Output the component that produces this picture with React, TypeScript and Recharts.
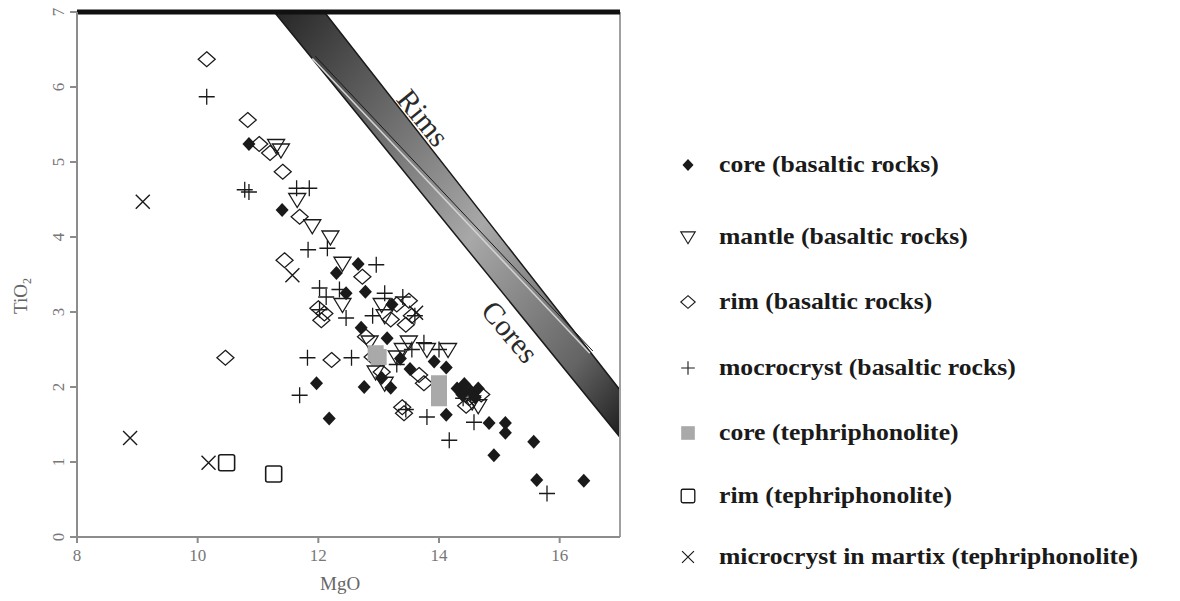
import { ComposedChart, Scatter, Area, Line, XAxis, YAxis, ReferenceLine } from 'recharts';

// MgO vs TiO2 of clinopyroxene
const coreBasalt = [
  [10.85, 5.24], [11.4, 4.36], [12.3, 3.52], [12.46, 3.25], [12.66, 3.64], [12.78, 3.27],
  [12.71, 2.79], [13.14, 2.65], [13.22, 3.1], [13.36, 2.38], [13.52, 2.24], [13.2, 1.99],
  [12.76, 2.0], [11.97, 2.05], [12.18, 1.58], [13.92, 2.34], [14.12, 2.26], [14.12, 1.63],
  [14.3, 1.98], [14.42, 2.04], [14.52, 1.95], [14.65, 1.98], [14.38, 1.9], [14.6, 1.86],
  [14.83, 1.52], [15.1, 1.52], [15.1, 1.39], [15.57, 1.27], [14.91, 1.09], [15.62, 0.76],
  [16.4, 0.75], [13.05, 2.12],
];
const mantleBasalt = [
  [11.3, 5.22], [11.38, 5.16], [11.65, 4.5], [11.9, 4.15], [12.2, 4.0], [12.4, 3.65],
  [12.4, 3.1], [13.05, 3.1], [13.1, 2.95], [13.4, 2.5], [13.8, 2.5], [14.15, 2.5],
  [13.1, 2.05], [13.3, 2.4], [14.55, 1.8], [14.65, 1.75], [12.95, 2.2], [13.5, 2.6],
  [12.85, 2.6], [14.45, 1.9],
];
const rimBasalt = [
  [10.15, 6.37], [10.83, 5.56], [11.02, 5.24], [11.2, 5.12], [11.41, 4.87], [11.69, 4.27],
  [11.44, 3.69], [10.46, 2.39], [12.05, 2.89], [12.1, 2.98], [12.73, 3.47], [12.79, 2.67],
  [13.45, 2.83], [13.3, 3.1], [13.67, 2.16], [13.39, 1.73], [12.22, 2.36], [12.9, 2.4],
  [13.05, 2.2], [13.5, 3.15], [13.55, 2.95], [13.2, 2.9], [14.5, 1.85], [14.7, 1.9],
  [13.42, 1.65], [12.0, 3.05], [13.75, 2.05], [14.45, 1.75],
];
const microBasalt = [
  [10.15, 5.87], [10.78, 4.63], [10.85, 4.6], [11.64, 4.65], [11.85, 4.65],
  [11.83, 3.83], [12.15, 3.85], [12.96, 3.63], [12.02, 3.32], [12.13, 3.2], [12.46, 2.92],
  [12.02, 3.03], [11.82, 2.39], [12.55, 2.39], [11.69, 1.89], [13.8, 1.6], [14.17, 1.29],
  [14.58, 1.53], [15.79, 0.58], [13.75, 2.59], [13.6, 2.95], [13.4, 3.2], [13.55, 2.5],
  [13.1, 3.25], [12.35, 3.3], [14.0, 2.5], [12.9, 2.95], [13.3, 2.3], [13.45, 1.7], [14.4, 1.85],
];
const coreTephri = [[12.95, 2.45], [13.0, 2.4], [14.0, 2.05], [14.0, 1.85]];
const rimTephri = [[10.48, 0.99], [11.26, 0.84]];
const matrixTephri = [[9.09, 4.47], [8.88, 1.32], [10.18, 0.99], [13.62, 2.99], [11.57, 3.49]];

const xTicks = [8, 10, 12, 14, 16];
const yTicks = [0, 1, 2, 3, 4, 5, 6, 7];

// Rims / Cores field, edges of the band and the line between them
const bandX = [11.27, 12.1, 17];
const bandLow = [7, 6.18, 1.33];
const bandHigh = [7, 7, 1.96];
const splitX = [11.9, 16.5];
const splitY = [6.38, 2.45];

const legendLabels = [
  'core (basaltic rocks)',
  'mantle (basaltic rocks)',
  'rim (basaltic rocks)',
  'mocrocryst (basaltic rocks)',
  'core (tephriphonolite)',
  'rim (tephriphonolite)',
  'microcryst in martix (tephriphonolite)',
];

const pts = (arr: number[][]) => arr.map(([x, y]) => ({ x, y }));
const bandData = bandX.map((x, i) => ({ x, band: [bandLow[i], bandHigh[i]] }));
const splitData = splitX.map((x, i) => ({ x, y: splitY[i] }));

const SERIF = '"Liberation Serif", "Times New Roman", serif';
const AXIS = '#8c8c8c';
const INK = '#1a1a1a';

type P = { cx?: number; cy?: number };

const FilledDiamond = ({ cx = 0, cy = 0 }: P) => (
  <path d={`M${cx},${cy - 7}L${cx + 6.5},${cy}L${cx},${cy + 7}L${cx - 6.5},${cy}Z`} fill={INK} />
);
const OpenDiamond = ({ cx = 0, cy = 0 }: P) => (
  <path d={`M${cx},${cy - 7.5}L${cx + 8.5},${cy}L${cx},${cy + 7.5}L${cx - 8.5},${cy}Z`} fill="none" stroke={INK} strokeWidth={1.3} />
);
const DownTriangle = ({ cx = 0, cy = 0 }: P) => (
  <path d={`M${cx - 8.5},${cy - 6}L${cx + 8.5},${cy - 6}L${cx},${cy + 8}Z`} fill="none" stroke={INK} strokeWidth={1.3} />
);
const Plus = ({ cx = 0, cy = 0 }: P) => (
  <path d={`M${cx - 8},${cy}H${cx + 8}M${cx},${cy - 8}V${cy + 8}`} stroke={INK} strokeWidth={1.3} />
);
const Cross = ({ cx = 0, cy = 0 }: P) => (
  <path d={`M${cx - 7},${cy - 7}L${cx + 7},${cy + 7}M${cx + 7},${cy - 7}L${cx - 7},${cy + 7}`} stroke={INK} strokeWidth={1.4} />
);
const GraySquare = ({ cx = 0, cy = 0 }: P) => (
  <rect x={cx - 8} y={cy - 8} width={16} height={16} fill="#a9a9a9" />
);
const OpenSquare = ({ cx = 0, cy = 0 }: P) => (
  <rect x={cx - 8} y={cy - 8} width={16} height={16} rx={2} fill="none" stroke={INK} strokeWidth={1.6} />
);

const legendShapes = [FilledDiamond, DownTriangle, OpenDiamond, Plus, GraySquare, OpenSquare, Cross];
const legendY = [165, 237, 302, 368, 433, 496, 557];

const YTick = ({ x, y, payload }: any) => (
  <text x={x - 4} y={y} transform={`rotate(-90, ${x - 4}, ${y})`} textAnchor="middle"
    fill="#777" fontSize={17} fontFamily={SERIF}>{payload.value}</text>
);

export default function App() {
  return (
    <div style={{ position: 'absolute', left: 0, top: 0, width: 1180, height: 601, background: '#fff' }}>
      <ComposedChart width={640} height={601} margin={{ top: 12, right: 20, bottom: 34, left: 0 }}>
        <defs>
          <linearGradient id="bandGrad" x1="0" y1="0" x2="1" y2="1">
            <stop offset="0" stopColor="#262626" />
            <stop offset="0.2" stopColor="#575757" />
            <stop offset="0.55" stopColor="#a8a8a8" />
            <stop offset="0.85" stopColor="#646464" />
            <stop offset="1" stopColor="#1e1e1e" />
          </linearGradient>
        </defs>
        <XAxis dataKey="x" type="number" domain={[8, 17]} ticks={xTicks} allowDataOverflow
          stroke={AXIS} strokeWidth={2} tickSize={6} tickMargin={6}
          tick={{ fill: '#777', fontSize: 17, fontFamily: SERIF }} height={30} />
        <YAxis dataKey="y" type="number" domain={[0, 7]} ticks={yTicks} allowDataOverflow
          stroke={AXIS} strokeWidth={2} tickSize={7} width={77} tick={<YTick />} />
        <Area data={bandData} dataKey="band" type="linear" fill="url(#bandGrad)" fillOpacity={1}
          stroke={INK} strokeWidth={1.5} isAnimationActive={false} />
        <Line data={splitData} dataKey="y" type="linear" stroke="#d2d2d2" strokeWidth={1.6}
          dot={false} isAnimationActive={false} />
        <Line data={splitData.map(d => ({ x: d.x + 0.05, y: d.y + 0.03 }))} dataKey="y" type="linear"
          stroke={INK} strokeWidth={1} dot={false} isAnimationActive={false} />
        <ReferenceLine x={17} stroke="#a0a0a0" strokeWidth={2} />
        <ReferenceLine y={7} stroke="#111" strokeWidth={5} />
        <Scatter data={pts(rimBasalt)} shape={<OpenDiamond />} isAnimationActive={false} />
        <Scatter data={pts(mantleBasalt)} shape={<DownTriangle />} isAnimationActive={false} />
        <Scatter data={pts(microBasalt)} shape={<Plus />} isAnimationActive={false} />
        <Scatter data={pts(coreBasalt)} shape={<FilledDiamond />} isAnimationActive={false} />
        <Scatter data={pts(coreTephri)} shape={<GraySquare />} isAnimationActive={false} />
        <Scatter data={pts(rimTephri)} shape={<OpenSquare />} isAnimationActive={false} />
        <Scatter data={pts(matrixTephri)} shape={<Cross />} isAnimationActive={false} />
      </ComposedChart>

      <div style={{ position: 'absolute', left: 320, top: 574, fontFamily: SERIF, fontSize: 19, color: '#666', lineHeight: 1 }}>MgO</div>
      <div style={{ position: 'absolute', left: 22, top: 296, fontFamily: SERIF, fontSize: 19, color: '#666', lineHeight: 1,
        transform: 'translate(-50%, -50%) rotate(-90deg)', whiteSpace: 'nowrap' }}>
        TiO<sub style={{ fontSize: 12 }}>2</sub>
      </div>
      <div style={{ position: 'absolute', left: 423, top: 118, fontFamily: SERIF, fontSize: 30, color: '#2a2a2a', lineHeight: 1,
        transform: 'translate(-50%, -50%) rotate(51deg)', whiteSpace: 'nowrap' }}>Rims</div>
      <div style={{ position: 'absolute', left: 510, top: 332, fontFamily: SERIF, fontSize: 30, color: '#2a2a2a', lineHeight: 1,
        transform: 'translate(-50%, -50%) rotate(50deg)', whiteSpace: 'nowrap' }}>Cores</div>

      {legendLabels.map((label, i) => {
        const Shape = legendShapes[i];
        const y = legendY[i];
        return (
          <div key={label} style={{ position: 'absolute', left: 678, top: y - 15, height: 30, display: 'flex', alignItems: 'center' }}>
            <svg width={20} height={20} style={{ marginRight: 21 }}>
              <g transform="translate(10,10) scale(0.85)"><Shape cx={0} cy={0} /></g>
            </svg>
            <span style={{ fontFamily: SERIF, fontWeight: 'bold', fontSize: 23, color: '#1a1a1a', whiteSpace: 'nowrap',
              display: 'inline-block', transform: 'scaleX(1.115)', transformOrigin: 'left center' }}>{label}</span>
          </div>
        );
      })}
    </div>
  );
}
